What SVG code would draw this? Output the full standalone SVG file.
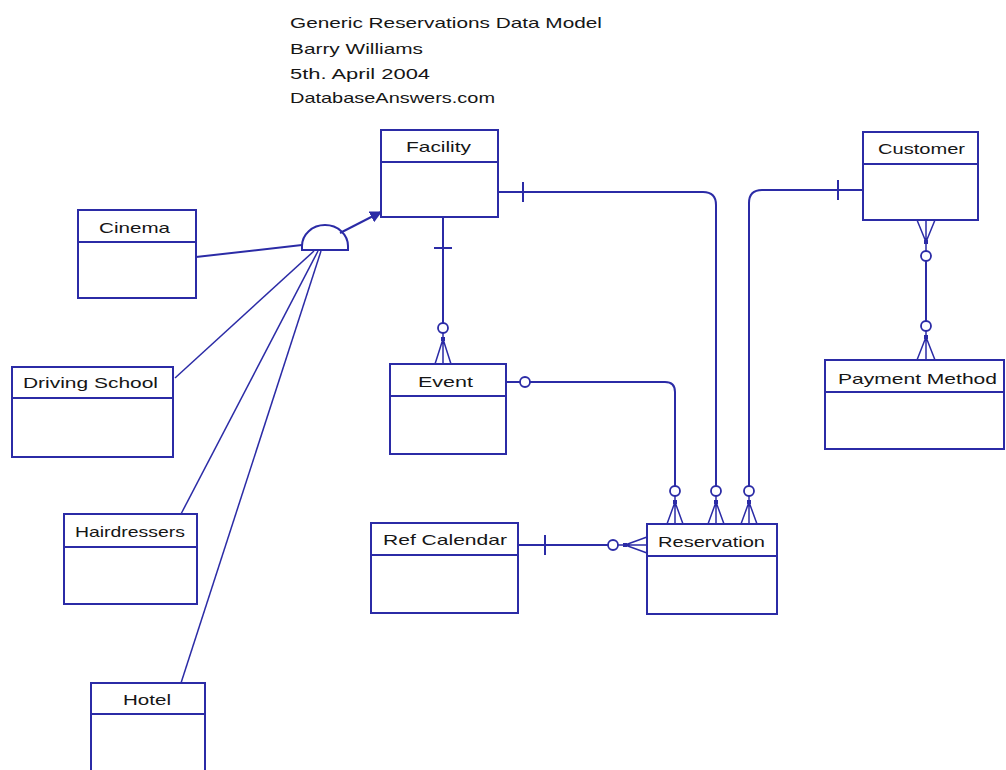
<svg xmlns="http://www.w3.org/2000/svg" width="1006" height="770" viewBox="0 0 1006 770">
  <defs>
    <style>
      .box { fill: #ffffff; stroke: #2b2ba6; stroke-width: 2; }
      .sep { stroke: #2b2ba6; stroke-width: 2; }
      .lbl { font-family: "Liberation Sans", Arial, sans-serif; font-size: 15px; fill: #161616; }
      .ttl { font-family: "Liberation Sans", Arial, sans-serif; font-size: 15px; fill: #161616; }
      .ln { fill: none; stroke: #2b2ba6; stroke-width: 2; }
      .thin { fill: none; stroke: #2b2ba6; stroke-width: 1.5; }
      .opt { fill: #ffffff; stroke: #2b2ba6; stroke-width: 1.8; }
      .dot { fill: #2b2ba6; }
    </style>
    <marker id="arrow" viewBox="0 0 10 10" refX="9" refY="5" markerWidth="12" markerHeight="12" markerUnits="userSpaceOnUse" orient="auto">
      <path d="M0,0 L10,5 L0,10 Z" fill="#2b2ba6"/>
    </marker>
  </defs>

  <rect width="1006" height="770" fill="#ffffff"/>

  <!-- title block -->
  <g id="title">
    <text class="ttl" x="290" y="28" textLength="312" lengthAdjust="spacingAndGlyphs">Generic Reservations Data Model</text>
    <text class="ttl" x="290" y="54" textLength="133" lengthAdjust="spacingAndGlyphs">Barry Williams</text>
    <text class="ttl" x="290" y="79" textLength="140" lengthAdjust="spacingAndGlyphs">5th. April 2004</text>
    <text class="ttl" x="290" y="103" textLength="205" lengthAdjust="spacingAndGlyphs">DatabaseAnswers.com</text>
  </g>

  <!-- relationships -->
  <g id="connectors">
    <!-- subtype symbol and links -->
    <path class="ln" d="M302,250 L302,246 A23,21 0 0 1 348,246 L348,250 Z"/>
    <line class="ln" x1="340" y1="233" x2="381" y2="212" marker-end="url(#arrow)"/>
    <line class="ln" x1="196" y1="257" x2="302" y2="245"/>
    <line class="thin" x1="314" y1="251" x2="175" y2="378"/>
    <line class="thin" x1="318" y1="251" x2="181" y2="514"/>
    <line class="thin" x1="321" y1="251" x2="181" y2="683"/>

    <!-- Facility - Event -->
    <line class="ln" x1="443" y1="217" x2="443" y2="323"/>
    <line class="ln" x1="434" y1="248" x2="452" y2="248"/>
    <circle class="opt" cx="443" cy="328" r="5"/>
    <path class="thin" d="M443,333 L443,364 M443,339 L435,364 M443,339 L451,364"/>
    <rect class="dot" x="441" y="337" width="4" height="4"/>

    <!-- Facility - Reservation -->
    <path class="ln" d="M498,192 L703,192 Q716,192 716,205 L716,486"/>
    <line class="ln" x1="523" y1="182" x2="523" y2="202"/>
    <circle class="opt" cx="716" cy="491" r="5"/>
    <path class="thin" d="M716,496 L716,524 M716,502 L708,524 M716,502 L724,524"/>
    <rect class="dot" x="714" y="500" width="4" height="4"/>

    <!-- Customer - Reservation -->
    <path class="ln" d="M863,190 L762,190 Q749,190 749,203 L749,486"/>
    <line class="ln" x1="838" y1="180" x2="838" y2="200"/>
    <circle class="opt" cx="749" cy="491" r="5"/>
    <path class="thin" d="M749,496 L749,524 M749,502 L741,524 M749,502 L757,524"/>
    <rect class="dot" x="747" y="500" width="4" height="4"/>

    <!-- Event - Reservation -->
    <path class="ln" d="M506,382 L520,382 M530,382 L665,382 Q675,382 675,392 L675,486"/>
    <circle class="opt" cx="525" cy="382" r="5"/>
    <circle class="opt" cx="675" cy="491" r="5"/>
    <path class="thin" d="M675,496 L675,524 M675,502 L667,524 M675,502 L683,524"/>
    <rect class="dot" x="673" y="500" width="4" height="4"/>

    <!-- Ref Calendar - Reservation -->
    <line class="ln" x1="518" y1="545" x2="608" y2="545"/>
    <line class="ln" x1="545" y1="535" x2="545" y2="555"/>
    <circle class="opt" cx="613" cy="545" r="5"/>
    <path class="thin" d="M618,545 L647,545 M625,545 L647,537 M625,545 L647,553"/>
    <rect class="dot" x="623" y="543" width="4" height="4"/>

    <!-- Customer - Payment Method -->
    <path class="thin" d="M926,220 L926,251 M917,220 L926,242 M935,220 L926,242"/>
    <rect class="dot" x="924" y="240" width="4" height="4"/>
    <circle class="opt" cx="926" cy="256" r="5"/>
    <line class="ln" x1="926" y1="261" x2="926" y2="321"/>
    <circle class="opt" cx="926" cy="326" r="5"/>
    <path class="thin" d="M926,331 L926,360 M926,337 L917,360 M926,337 L935,360"/>
    <rect class="dot" x="924" y="335" width="4" height="4"/>
  </g>

  <!-- entities -->
  <g id="facility">
    <rect class="box" x="381" y="130" width="117" height="87"/>
    <line class="sep" x1="381" y1="162" x2="498" y2="162"/>
    <text class="lbl" x="406" y="152" textLength="65" lengthAdjust="spacingAndGlyphs">Facility</text>
  </g>
  <g id="customer">
    <rect class="box" x="863" y="132" width="115" height="88"/>
    <line class="sep" x1="863" y1="164" x2="978" y2="164"/>
    <text class="lbl" x="878" y="154" textLength="87" lengthAdjust="spacingAndGlyphs">Customer</text>
  </g>
  <g id="cinema">
    <rect class="box" x="78" y="210" width="118" height="88"/>
    <line class="sep" x1="78" y1="242" x2="196" y2="242"/>
    <text class="lbl" x="99" y="233" textLength="71" lengthAdjust="spacingAndGlyphs">Cinema</text>
  </g>
  <g id="driving-school">
    <rect class="box" x="12" y="367" width="161" height="90"/>
    <line class="sep" x1="12" y1="398" x2="173" y2="398"/>
    <text class="lbl" x="23" y="388" textLength="135" lengthAdjust="spacingAndGlyphs">Driving School</text>
  </g>
  <g id="event">
    <rect class="box" x="390" y="364" width="116" height="90"/>
    <line class="sep" x1="390" y1="396" x2="506" y2="396"/>
    <text class="lbl" x="418" y="387" textLength="55" lengthAdjust="spacingAndGlyphs">Event</text>
  </g>
  <g id="payment-method">
    <rect class="box" x="825" y="360" width="179" height="89"/>
    <line class="sep" x1="825" y1="392" x2="1004" y2="392"/>
    <text class="lbl" x="838" y="384" textLength="159" lengthAdjust="spacingAndGlyphs">Payment Method</text>
  </g>
  <g id="hairdressers">
    <rect class="box" x="64" y="514" width="133" height="90"/>
    <line class="sep" x1="64" y1="547" x2="197" y2="547"/>
    <text class="lbl" x="75" y="537" textLength="110" lengthAdjust="spacingAndGlyphs">Hairdressers</text>
  </g>
  <g id="ref-calendar">
    <rect class="box" x="371" y="523" width="147" height="90"/>
    <line class="sep" x1="371" y1="555" x2="518" y2="555"/>
    <text class="lbl" x="383" y="545" textLength="124" lengthAdjust="spacingAndGlyphs">Ref Calendar</text>
  </g>
  <g id="reservation">
    <rect class="box" x="647" y="524" width="130" height="90"/>
    <line class="sep" x1="647" y1="556" x2="777" y2="556"/>
    <text class="lbl" x="658" y="547" textLength="107" lengthAdjust="spacingAndGlyphs">Reservation</text>
  </g>
  <g id="hotel">
    <rect class="box" x="91" y="683" width="114" height="100"/>
    <line class="sep" x1="91" y1="714" x2="205" y2="714"/>
    <text class="lbl" x="123" y="705" textLength="48" lengthAdjust="spacingAndGlyphs">Hotel</text>
  </g>
</svg>
